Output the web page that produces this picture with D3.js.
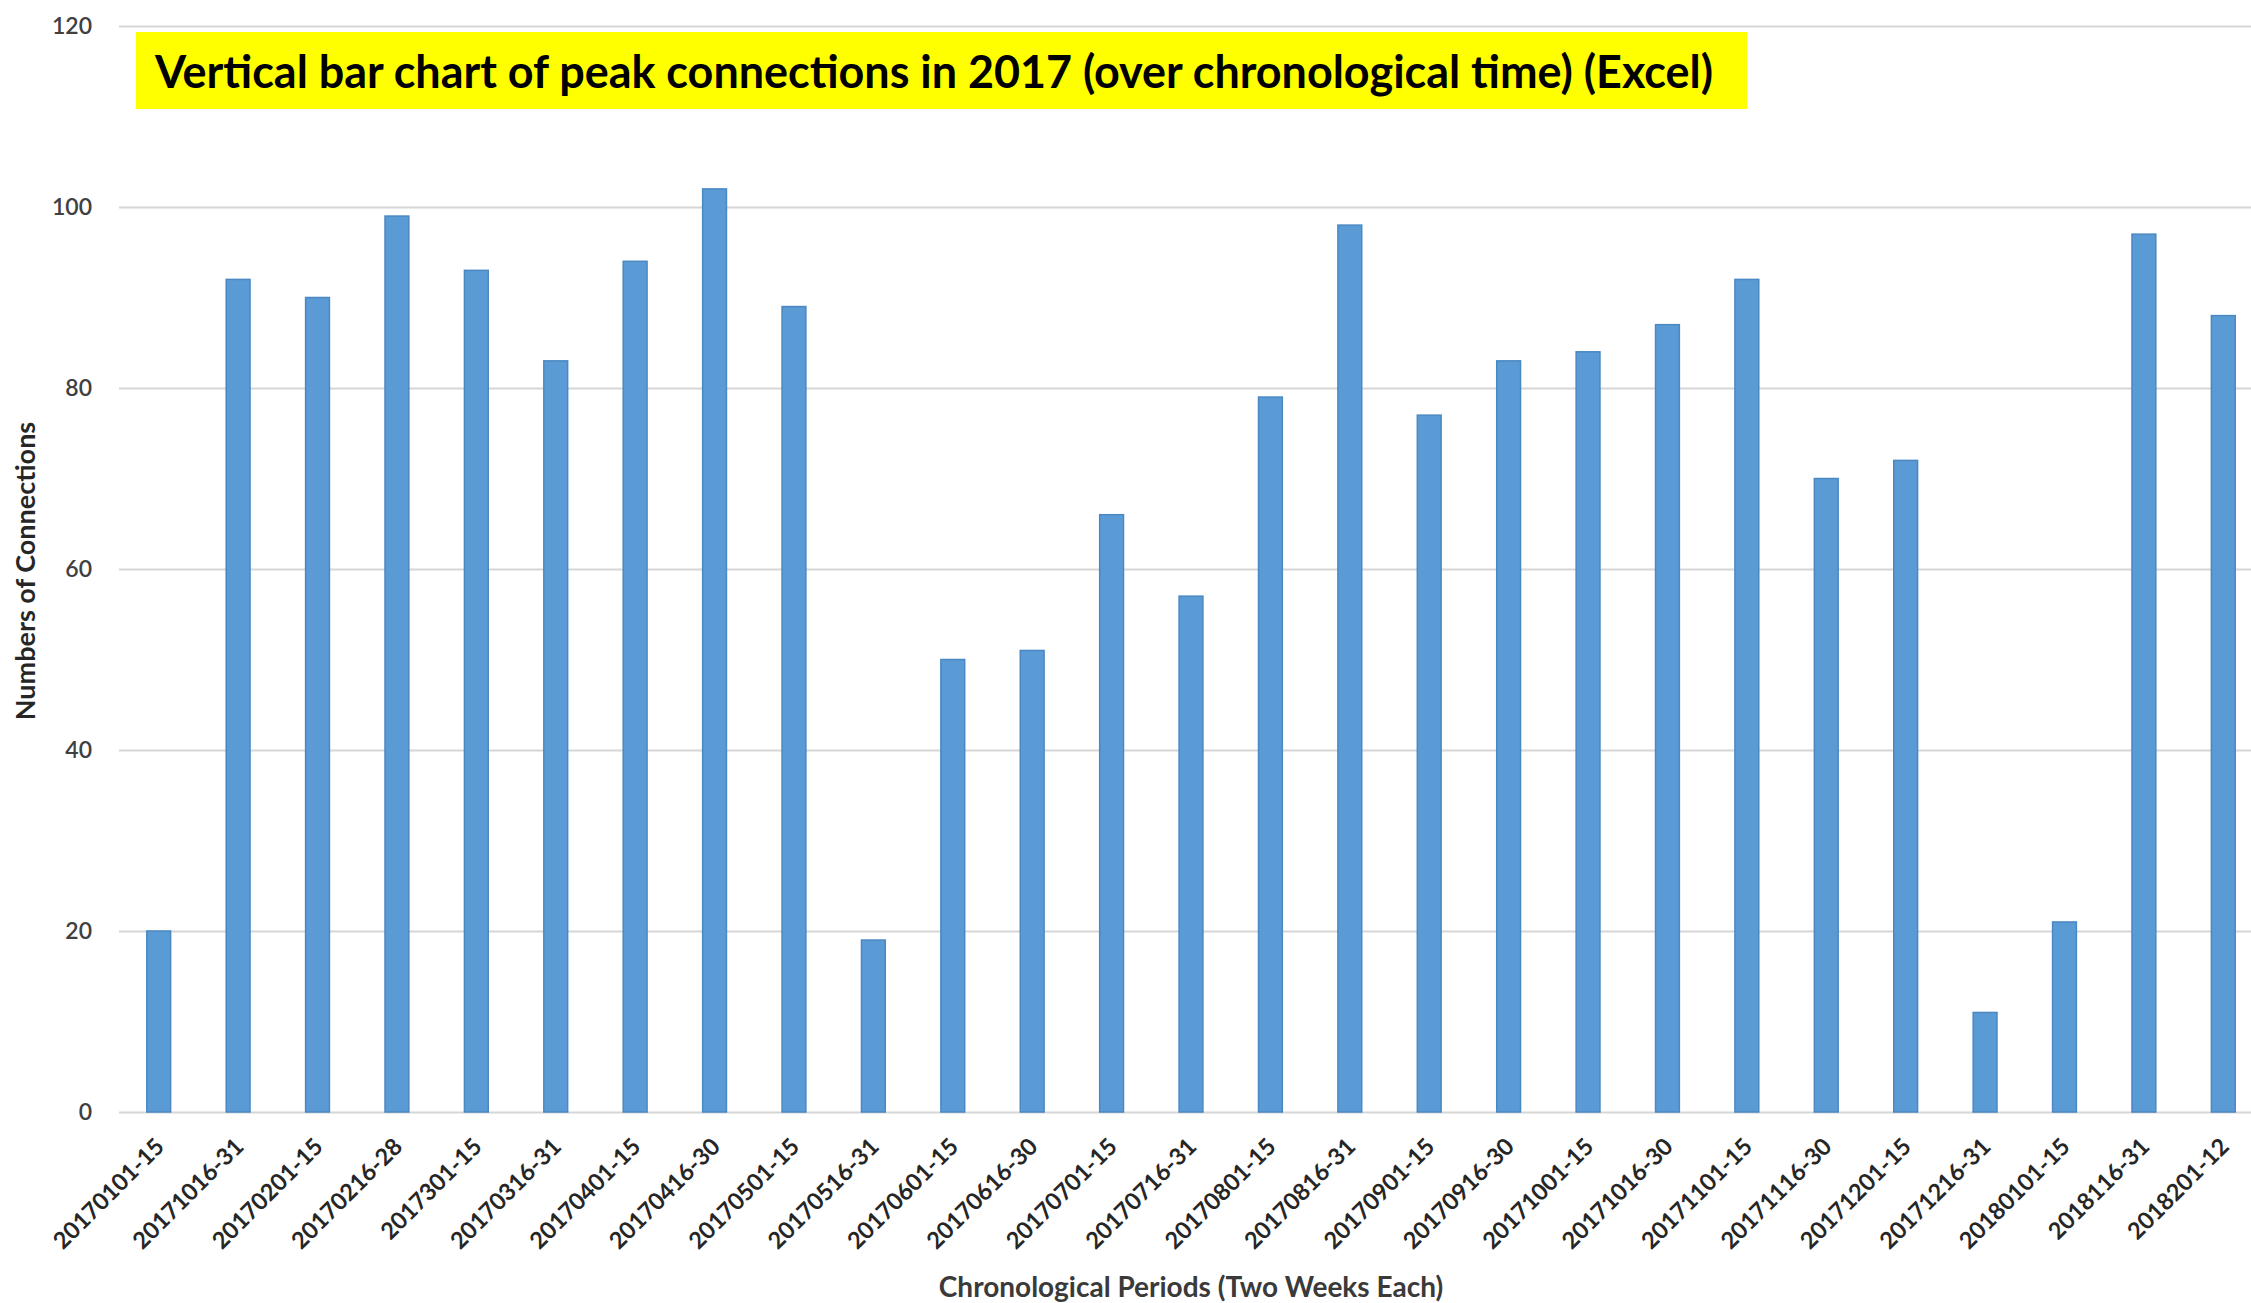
<!DOCTYPE html>
<html>
<head>
<meta charset="utf-8">
<script src="https://cdn.jsdelivr.net/npm/d3@7"></script>
<style>
  html, body { margin: 0; padding: 0; background: #ffffff; overflow: hidden; }
  svg { display: block; }
</style>
</head>
<body>
<svg id="chart" width="2251" height="1303"></svg>
<script>
// ---- data ----
const categories = [
  "20170101-15", "20171016-31", "20170201-15", "20170216-28", "2017301-15",
  "20170316-31", "20170401-15", "20170416-30", "20170501-15", "20170516-31",
  "20170601-15", "20170616-30", "20170701-15", "20170716-31", "20170801-15",
  "20170816-31", "20170901-15", "20170916-30", "20171001-15", "20171016-30",
  "20171101-15", "20171116-30", "20171201-15", "20171216-31", "20180101-15",
  "2018116-31", "2018201-12"
];
const connections = [
  20, 92, 90, 99, 93,
  83, 94, 102, 89, 19,
  50, 51, 66, 57, 79,
  98, 77, 83, 84, 87,
  92, 70, 72, 11, 21,
  97, 88
];
const yTicks = [0, 20, 40, 60, 80, 100, 120];
const titleText = "Vertical bar chart of peak connections in 2017 (over chronological time) (Excel)";
const yAxisTitle = "Numbers of Connections";
const xAxisTitle = "Chronological  Periods (Two Weeks Each)";

// ---- layout ----
const svg = d3.select("#chart");
const plotLeft = 119, plotRight = 2263, plotTop = 26, plotBottom = 1112;
const fontStack = "Lato, 'Open Sans', sans-serif";

const x = d3.scaleBand()
  .domain(categories)
  .range([plotLeft, plotRight])
  .paddingInner(0.70)
  .paddingOuter(0.35);

const y = d3.scaleLinear()
  .domain([0, 120])
  .range([plotBottom, plotTop]);

// gridlines
const grid = svg.append("g")
  .attr("transform", `translate(${plotLeft},0)`)
  .call(d3.axisLeft(y).tickValues(yTicks).tickSize(-(plotRight - plotLeft)).tickFormat(""));
grid.select(".domain").remove();
grid.selectAll(".tick line").attr("stroke", "#d6d6d6").attr("stroke-width", 2.2);

// y tick labels
const yAx = svg.append("g")
  .attr("transform", `translate(${plotLeft},0)`)
  .call(d3.axisLeft(y).tickValues(yTicks).tickSize(0).tickPadding(27));
yAx.select(".domain").remove();
yAx.selectAll("text")
  .attr("font-family", fontStack)
  .attr("font-weight", "600")
  .attr("font-size", 23)
  .attr("fill", "#404040");

// bars
svg.append("g").selectAll("rect")
  .data(connections)
  .join("rect")
  .attr("x", (d, i) => x(categories[i]))
  .attr("width", x.bandwidth())
  .attr("y", d => y(d))
  .attr("height", d => y(0) - y(d))
  .attr("fill", "#5b9bd5")
  .attr("stroke", "#4a88c2")
  .attr("stroke-width", 1.5);

// x tick labels (rotated)
const xAx = svg.append("g")
  .attr("transform", `translate(0,${plotBottom})`)
  .call(d3.axisBottom(x).tickSize(0).tickPadding(0));
xAx.select(".domain").remove();
xAx.selectAll(".tick text")
  .attr("font-family", fontStack)
  .attr("font-weight", "bold")
  .attr("font-size", 23.5)
  .attr("fill", "#262626")
  .attr("text-anchor", "end")
  .attr("dy", 0)
  .attr("transform", "translate(7,36) rotate(-45)");

// y axis title
svg.append("text")
  .attr("transform", "translate(35,571) rotate(-90)")
  .attr("text-anchor", "middle")
  .attr("font-family", fontStack)
  .attr("font-weight", "bold")
  .attr("font-size", 27)
  .attr("fill", "#262626")
  .text(yAxisTitle);

// x axis title
svg.append("text")
  .attr("x", 1191)
  .attr("y", 1297)
  .attr("text-anchor", "middle")
  .attr("font-family", fontStack)
  .attr("font-weight", "bold")
  .attr("font-size", 28)
  .attr("fill", "#3a3a3a")
  .text(xAxisTitle);

// title box
svg.append("rect")
  .attr("x", 136).attr("y", 32)
  .attr("width", 1611).attr("height", 77)
  .attr("fill", "#ffff00");
svg.append("text")
  .attr("x", 155)
  .attr("y", 88)
  .attr("font-family", fontStack)
  .attr("font-weight", "bold")
  .attr("font-size", 45)
  .attr("textLength", 1558)
  .attr("lengthAdjust", "spacingAndGlyphs")
  .attr("fill", "#000000")
  .text(titleText);
</script>
</body>
</html>
